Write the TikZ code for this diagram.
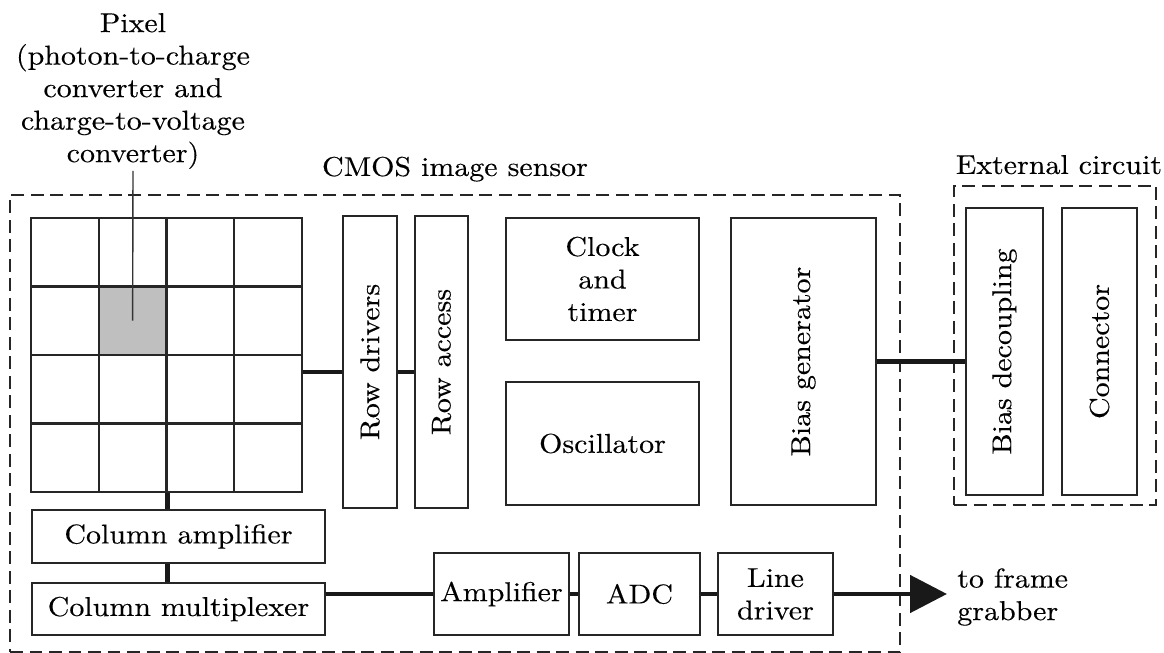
\documentclass[tikz,border=0pt]{standalone}
\usepackage{fontspec}
\setmainfont{lmroman10}[Extension=.otf, UprightFont=*-regular, FakeStretch=1.1, FakeBold=0.3]
\usepackage{graphicx}
\usetikzlibrary{positioning,arrows.meta,calc}

\begin{document}
\begin{tikzpicture}[
    font=\fontsize{15.5}{18.5}\selectfont,
    block/.style={
      rectangle,
      draw=black!85,
      line width=1.2pt,
      inner sep=0pt,
      align=center
    },
    cell/.style={
      block,
      minimum width=1.355cm,
      minimum height=1.37cm
    },
    dashbox/.style={
      rectangle,
      draw=black!85,
      line width=1.2pt,
      dash pattern=on 0.26cm off 0.13cm
    },
    bus/.style={line width=2.5pt, draw=black!90},
    leader/.style={line width=0.8pt, draw=black!80},
    outarrow/.style={
      -{Triangle[length=0.74cm, width=0.74cm]},
      line width=2.8pt,
      draw=black!90
    }
  ]
  \useasboundingbox (0,0) rectangle (23.28,-13.06);

  % outlines of the chip and of the board
  \node[dashbox, minimum width=17.8cm, minimum height=9.14cm] (cmos) at (9.1,-8.47) {};
  \node[anchor=base] (cmoslbl) at ($(cmos.north)+(0,0.36)$) {CMOS image sensor};
  \node[dashbox, minimum width=4.04cm, minimum height=6.38cm] (ext) at (21.1,-6.91) {};
  \node[anchor=base] (extlbl) at ($(ext.north)+(0.08,0.22)$) {External circuit};

  % pixel array
  \foreach \r in {0,...,3}
    \foreach \c in {0,...,3}
      \node[cell] (c\r\c) at ({0.62+1.355*(\c+0.5)},{-4.36-1.37*(\r+0.5)}) {};
  \node[cell, fill=black!25] (pixel) at (c11) {};
  \node[align=center, anchor=south, inner sep=1pt] (pixlbl) at (2.66,-3.42)
    {Pixel\\(photon-to-charge\\converter and\\charge-to-voltage\\converter)};
  \draw[leader] (pixlbl.south) -- (pixel.center);

  % blocks
  \node[block, minimum width=1.08cm, minimum height=5.84cm] (rowdrv) at (7.4,-7.24) {\rotatebox{90}{Row drivers}};
  \node[block, minimum width=1.06cm, minimum height=5.84cm] (rowacc) at (8.83,-7.24) {\rotatebox{90}{Row access}};
  \node[block, minimum width=3.86cm, minimum height=2.44cm] (clock) at (12.05,-5.58) {Clock\\and\\timer};
  \node[block, minimum width=3.86cm, minimum height=2.46cm] (osc) at (12.05,-8.87) {Oscillator};
  \node[block, minimum width=2.9cm, minimum height=5.74cm] (biasgen) at (16.07,-7.23) {\rotatebox{90}{Bias generator}};
  \node[block, minimum width=1.54cm, minimum height=5.74cm] (biasdec) at (20.09,-7.03) {\rotatebox{90}{Bias decoupling}};
  \node[block, minimum width=1.5cm, minimum height=5.74cm] (conn) at (21.99,-7.03) {\rotatebox{90}{Connector}};

  \node[block, minimum width=5.86cm, minimum height=1.06cm] (colamp) at (3.57,-10.73) {Column amplifier};
  \node[block, minimum width=5.86cm, minimum height=1.04cm] (colmux) at (3.57,-12.18) {Column multiplexer};
  \node[block, minimum width=2.7cm, minimum height=1.64cm] (amp) at (10.03,-11.88) {Amplifier};
  \node[block, minimum width=2.42cm, minimum height=1.64cm] (adc) at (12.79,-11.88) {ADC};
  \node[block, minimum width=2.3cm, minimum height=1.64cm] (linedrv) at (15.51,-11.88) {Line\\driver};
  \node[anchor=west, align=left, inner sep=0pt] (grabber) at (19.14,-11.94) {to frame\\grabber};

  % buses
  \coordinate (rowbus) at ($(c13.south east)+(0,-0.32)$);
  \draw[bus] (rowbus) -- (rowbus -| rowdrv.west);
  \draw[bus] (rowbus -| rowdrv.east) -- (rowbus -| rowacc.west);
  \draw[bus] (biasgen.east) -- (biasgen.east -| biasdec.west);
  \draw[bus] (c31.south east) -- (c31.south east |- colamp.north);
  \draw[bus] (colamp.south -| c31.south east) -- (colmux.north -| c31.south east);
  \draw[bus] (amp.west -| colmux.east) -- (amp.west);
  \draw[bus] (amp.east) -- (adc.west);
  \draw[bus] (adc.east) -- (linedrv.west);
  \draw[outarrow, shorten >=0.2cm] (linedrv.east) -- (linedrv.east -| grabber.west);
\end{tikzpicture}
\end{document}
